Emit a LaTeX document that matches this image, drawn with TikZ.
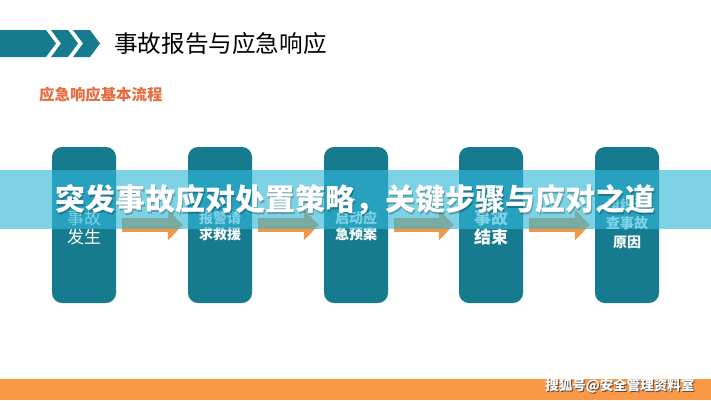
\documentclass[tikz,border=0pt]{standalone}
\usepackage{fontspec}
\setmainfont{Noto Sans CJK SC}
\usetikzlibrary{arrows.meta,calc,positioning}
\definecolor{tealbox}{RGB}{22,123,143}
\definecolor{arrowor}{RGB}{243,150,70}
\definecolor{footor}{RGB}{250,152,70}
\definecolor{suborange}{RGB}{232,108,64}
\definecolor{bannerc}{RGB}{50,184,216}
\begin{document}
\begin{tikzpicture}[x=1pt,y=-1pt,line join=round,
 box/.style={fill=tealbox,rounded corners=10pt,minimum width=64pt,minimum height=156pt,inner sep=0pt},
 flow/.style={line width=14pt,draw=arrowor,line cap=butt,-{Triangle[length=15pt,width=30pt]}},
 lbl/.style={text=white,align=center,inner sep=0pt,font=\bfseries\fontsize{14}{16}\selectfont}]
\useasboundingbox (0,0) rectangle (711,400);
\fill[white] (0,0) rectangle (711,400);
% header
\fill[tealbox] (0,30) -- (46,30) -- (56,43.5) -- (46,57) -- (0,57) -- cycle;
\foreach \x in {51,73}{\fill[tealbox] (\x,30) -- ++(17,0) -- ++(10,13.5) -- ++(-10,13.5) -- ++(-17,0) -- ++(10,-13.5) -- cycle;}
\node[anchor=west,inner sep=0pt,font=\fontsize{23.6}{24}\selectfont] (T) at (114,44) {事故报告与应急响应};
\node[anchor=west,inner sep=0pt,text=suborange,font=\bfseries\fontsize{15.4}{16}\selectfont] (S) at (39,95) {应急响应基本流程};
% steps
\foreach \i/\x in {A/84,B/220,C/356,D/491,E/627}{\node[box] (\i) at (\x,225) {};}
\foreach \i/\j in {A/B,B/C,C/D,D/E}{\draw[flow] ($(\i.east)+(6,0)$) -- ($(\j.west)+(-5,0)$);}
\node[lbl,font=\fontsize{17}{19}\selectfont] (a) at (A.center) [yshift=-2.5pt] {事故\\发生};
\node[lbl] (b) at (B.center) [yshift=-1pt] {报警请\\求救援};
\node[lbl] (c) at (C.center) [yshift=-1pt] {启动应\\急预案};
\node[lbl,font=\bfseries\fontsize{17}{19}\selectfont] (d) at (D.center) [yshift=-2.5pt] {事故\\结束};
\node[lbl,font=\bfseries\fontsize{14}{18.5}\selectfont] (e) at (E.center) [yshift=1.5pt] {组织调\\查事故\\原因};
% banner
\fill[bannerc,opacity=0.63] (0,170) rectangle (711,229);
\node[text=black,opacity=0.25,font=\bfseries\fontsize{30}{30}\selectfont] (H0) at (356.5,201.5) {突发事故应对处置策略，关键步骤与应对之道};
\node[text=white,font=\bfseries\fontsize{30}{30}\selectfont] (H) at (355.5,200) {突发事故应对处置策略，关键步骤与应对之道};
% footer
\fill[footor] (0,379) rectangle (711,400);
\node[anchor=east,text=black!70,font=\bfseries\fontsize{13.5}{14}\selectfont] (W0) at (699,387) {搜狐号@安全管理资料室};
\node[anchor=east,text=white,font=\bfseries\fontsize{13.5}{14}\selectfont] (W) at (698,386) {搜狐号@安全管理资料室};
\end{tikzpicture}
\end{document}
